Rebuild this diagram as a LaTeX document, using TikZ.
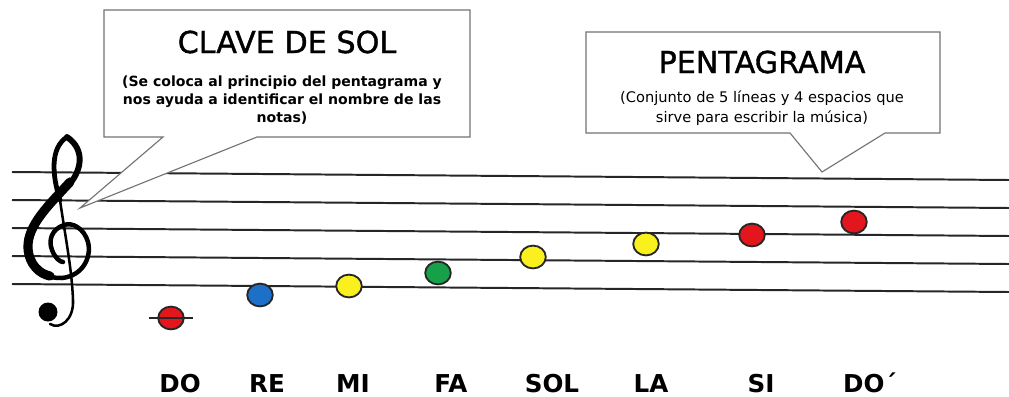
\documentclass[tikz,border=0pt]{standalone}
\usepackage{fontspec}
\setmainfont{DejaVu Sans}
\newfontfamily\titlefont{DejaVu Sans}[FakeBold=1.2]
\usetikzlibrary{shapes,positioning}
\definecolor{notered}{RGB}{226,22,28}
\definecolor{noteblue}{RGB}{28,112,200}
\definecolor{noteyellow}{RGB}{250,240,30}
\definecolor{notegreen}{RGB}{22,160,72}
\tikzset{
    callout/.style={draw=black!55, fill=white, line width=0.8pt},
    title/.style={font=\titlefont\fontsize{21.5}{24}\selectfont},
    info/.style={align=center, font=\bfseries\fontsize{10}{12.8}\selectfont},
    note/.style={ellipse, draw=black!85, fill=#1, line width=1.3pt, minimum width=0.64cm, minimum height=0.57cm, inner sep=0pt},
    notename/.style={font=\bfseries\fontsize{17.5}{20}\selectfont, anchor=base},
    staffline/.style={draw=black!85, line width=1.4pt},
    clef/.style={draw=black, line cap=round, line join=round}
}
\begin{document}
\begin{tikzpicture}[x=0.025cm, y=-0.025cm]
    \fill[white] (0,0) rectangle (1009,396);
    \useasboundingbox (0,0) rectangle (1009,396);

    % pentagrama
    \foreach \i in {0,...,4}
        \draw[staffline] (12,172+28*\i) -- (1009,180+28*\i);

    % clave de sol
    \draw[clef, line width=3.4pt] (67,137) .. controls (50,148) and (52,175) .. (60,200);
    \draw[clef, line width=1.8pt] (60,200) .. controls (65,235) and (72,270) .. (73,300)
        .. controls (74,320) and (60,330) .. (50,324);
    \fill (48,312) circle (9.5);
    \draw[clef, line width=4.2pt] (67,137) .. controls (86,150) and (82,172) .. (66,188);
    \draw[clef, line width=6.5pt] (70,182) .. controls (50,204) and (27,225) .. (28,248)
        .. controls (29,265) and (40,274) .. (50,276);
    \draw[clef, line width=3.2pt] (48,276) .. controls (54,278) and (58,278) .. (62,278)
        .. controls (82,276) and (92,258) .. (88,242) .. controls (84,228) and (72,222) .. (64,225)
        .. controls (52,229) and (48,240) .. (52,250) .. controls (55,258) and (60,262) .. (63,262);

    % bocadillos
    \draw[callout] (104,10) -- (470,10) -- (470,137) -- (257,137) -- (80,208) -- (163,137) -- (104,137) -- cycle;
    \node[title] (clave) at (287,42) {CLAVE DE SOL};
    \node[info] (claveinfo) at (282,100) {(Se coloca al principio del pentagrama y\\nos ayuda a identificar el nombre de las\\notas)};

    \draw[callout] (586,32) -- (940,32) -- (940,133) -- (885,133) -- (822,172) -- (790,133) -- (586,133) -- cycle;
    \node[title] (penta) at (762,62) {PENTAGRAMA};
    \node[info, font=\fontsize{10.4}{14.2}\selectfont] (pentainfo) at (762,108) {(Conjunto de 5 líneas y 4 espacios que\\sirve para escribir la música)};

    % notas
    \node[note=notered] (do) at (171,318) {};
    \draw[staffline] (149,318) -- (193,318);
    \node[note=noteblue] (re) at (260,295) {};
    \node[note=noteyellow] (mi) at (349,286) {};
    \node[note=notegreen] (fa) at (438,273) {};
    \node[note=noteyellow] (sol) at (533,257) {};
    \node[note=noteyellow] (la) at (646,244) {};
    \node[note=notered] (si) at (752,235) {};
    \node[note=notered] (doalto) at (854,222) {};

    \node[notename] (ldo) at (180,392) {DO};
    \node[notename] (lre) at (267,392) {RE};
    \node[notename] (lmi) at (353,392) {MI};
    \node[notename] (lfa) at (451,392) {FA};
    \node[notename] (lsol) at (552,392) {SOL};
    \node[notename] (lla) at (651,392) {LA};
    \node[notename] (lsi) at (761,392) {SI};
    \node[notename] (ldoalto) at (870,392) {DO´};
\end{tikzpicture}
\end{document}
